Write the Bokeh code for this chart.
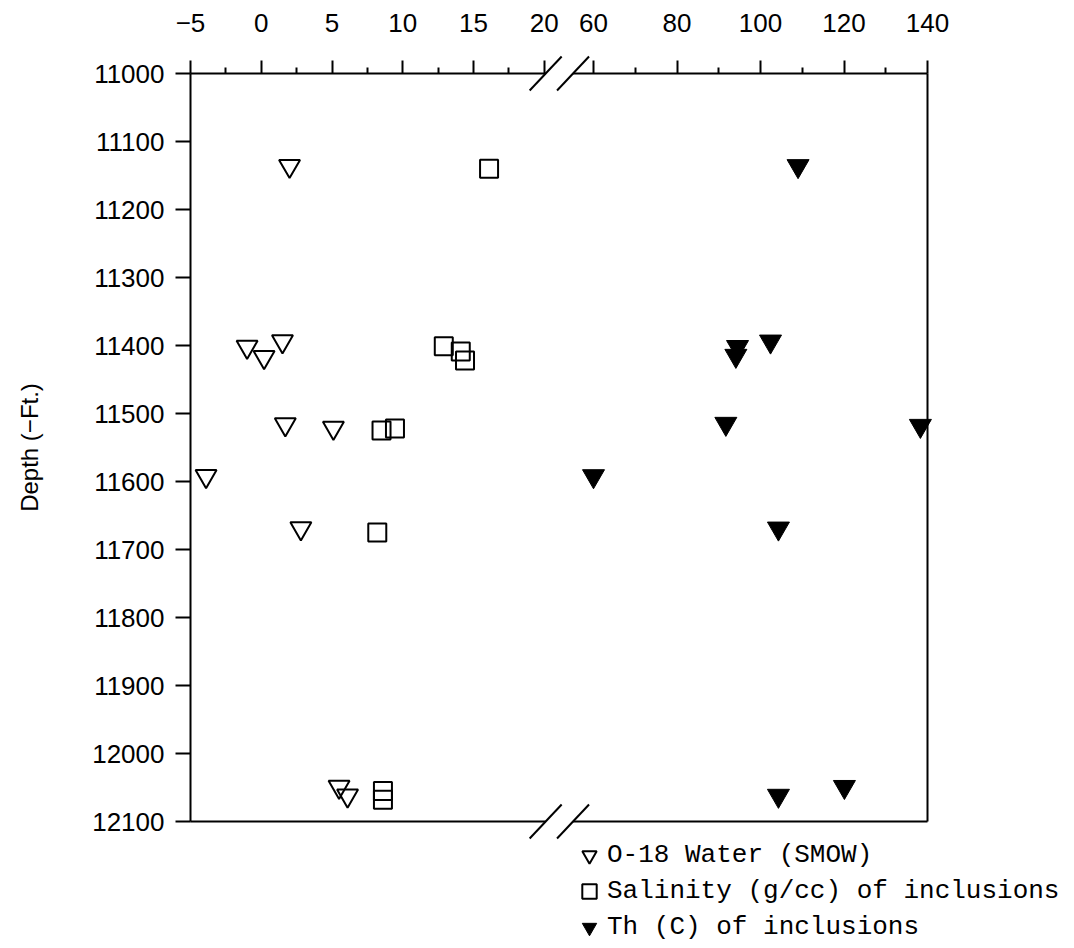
from bokeh.plotting import figure
from bokeh.models import Range1d, FixedTicker, Legend, LegendItem, Arrow
from bokeh.embed import file_html
from bokeh.resources import INLINE

# ---------------- data ----------------
# O-18 of water (SMOW, per mil) -- open inverted triangles, left part of the broken scale
o18_value = [2.0, -1.0, 0.2, 1.5, 1.7, 5.1, -3.9, 2.8, 5.5, 6.1]
o18_depth = [11136, 11402, 11417, 11394, 11516, 11521, 11592, 11669, 12049, 12062]

# Salinity (g/cc) of inclusions -- open squares, left part of the scale
sal_value = [16.1, 12.9, 14.1, 14.4, 8.5, 9.45, 8.2, 8.6, 8.6]
sal_depth = [11140, 11401, 11409, 11422, 11525, 11522, 11675, 12055, 12068]

# Th (C) of inclusions -- filled inverted triangles, right part of the scale
th_value = [109.0, 94.5, 94.1, 102.4, 91.7, 138.3, 60.0, 104.3, 104.3, 120.1]
th_depth = [11136, 11402, 11415, 11394, 11515, 11518, 11592, 11669, 12062, 12049]

left_ticks = [-5, 0, 5, 10, 15, 20]
left_minor = [-2.5, 2.5, 7.5, 12.5, 17.5]
right_ticks = [60, 80, 100, 120, 140]
right_minor = [70, 90, 110, 130]
depth_ticks = list(range(11000, 12101, 100))

legend_labels = ["O-18 Water (SMOW)", "Salinity (g/cc) of inclusions", "Th (C) of inclusions"]

# ---------------- layout / scales ----------------
W, H = 1074, 948


def lin_range(v0, px0, px_per_unit, size):
    """range spanning the whole canvas, with value v0 at pixel px0"""
    return v0 - px0 / px_per_unit, v0 + (size - px0) / px_per_unit


X_MAIN = lin_range(-5.0, 190, 14.15, W)      # left part of the broken axis
X_TH = lin_range(60.0, 593, 4.175, W)        # right part of the broken axis
_top, _bot = lin_range(11000.0, 73, 0.68, H)
DEPTH = (_bot, _top)                         # depth increases downward

X_LEFT_END, X_RIGHT_END = -5.0, 140.0
D_TOP, D_BOT = 11000, 12100
BREAK_MAIN = 20.1            # end of left segment (main units)
BREAK_TH = 55.1              # start of right segment (Th units)


def th_to_main(t):
    f = (t - X_TH[0]) / (X_TH[1] - X_TH[0])
    return round(X_MAIN[0] + f * (X_MAIN[1] - X_MAIN[0]), 6)


p = figure(width=W, height=H,
           x_range=Range1d(*X_MAIN), y_range=Range1d(*DEPTH),
           x_axis_location="above", output_backend="svg", toolbar_location=None,
           min_border=0)
p.extra_x_ranges = {"th": Range1d(*X_TH)}
p.outline_line_color = None
p.xgrid.visible = False
p.ygrid.visible = False
p.background_fill_color = "white"
p.border_fill_color = "white"

FONT = "Liberation Sans"
TICK_FONT_SIZE = "26px"

# top broken axis: one axis, ticks of the right part placed via the Th scale
major_pos = [float(t) for t in left_ticks] + [th_to_main(t) for t in right_ticks]
minor_pos = [float(t) for t in left_minor] + [th_to_main(t) for t in right_minor]
labels = [str(t).replace("-", "\u2212") for t in left_ticks] + [str(t) for t in right_ticks]
xa = p.xaxis[0]
xa.fixed_location = D_TOP
xa.ticker = FixedTicker(ticks=major_pos, minor_ticks=minor_pos)
xa.major_label_overrides = {pos: lab for pos, lab in zip(major_pos, labels)}
xa.axis_line_color = None
xa.major_tick_out = 13
xa.major_tick_in = 0
xa.minor_tick_out = 6
xa.minor_tick_in = 0
xa.major_tick_line_width = 2
xa.minor_tick_line_width = 2
xa.major_tick_line_color = "black"
xa.minor_tick_line_color = "black"
xa.major_label_standoff = 29
xa.major_label_text_font = FONT
xa.major_label_text_font_size = TICK_FONT_SIZE
xa.major_label_text_color = "black"

ya = p.yaxis[0]
ya.fixed_location = X_LEFT_END
ya.bounds = (D_TOP, D_BOT)
ya.ticker = FixedTicker(ticks=depth_ticks, minor_ticks=[])
ya.axis_line_width = 2
ya.axis_line_color = "black"
ya.major_tick_out = 15
ya.major_tick_in = 0
ya.minor_tick_out = 0
ya.minor_tick_in = 0
ya.major_tick_line_width = 2
ya.major_tick_line_color = "black"
ya.major_label_standoff = 11
ya.major_label_text_font = FONT
ya.major_label_text_font_size = TICK_FONT_SIZE
ya.major_label_text_color = "black"
ya.axis_label = "Depth (\u2212Ft.)"
ya.axis_label_text_font = FONT
ya.axis_label_text_font_style = "normal"
ya.axis_label_text_font_size = "24px"
ya.axis_label_text_color = "black"
ya.axis_label_standoff = 46

# frame lines (right side, top and bottom with break marks)
LW = 2
p.add_layout(Arrow(end=None, x_start=X_RIGHT_END, x_end=X_RIGHT_END, y_start=D_TOP, y_end=D_BOT,
                   line_width=LW, line_color="black", x_range_name="th"))
SL_DX_MAIN = 1.13
SL_DX_TH = 3.83
SL_DY = 25
for yv in (D_TOP, D_BOT):
    p.add_layout(Arrow(end=None, x_start=X_LEFT_END, x_end=BREAK_MAIN, y_start=yv, y_end=yv,
                       line_width=LW, line_color="black"))
    p.add_layout(Arrow(end=None, x_start=BREAK_TH, x_end=X_RIGHT_END, y_start=yv, y_end=yv,
                       line_width=LW, line_color="black", x_range_name="th"))
    p.add_layout(Arrow(end=None, x_start=BREAK_MAIN - SL_DX_MAIN, y_start=yv + SL_DY,
                       x_end=BREAK_MAIN + SL_DX_MAIN, y_end=yv - SL_DY,
                       line_width=LW, line_color="black"))
    p.add_layout(Arrow(end=None, x_start=BREAK_TH - SL_DX_TH, y_start=yv + SL_DY,
                       x_end=BREAK_TH + SL_DX_TH, y_end=yv - SL_DY,
                       line_width=LW, line_color="black", x_range_name="th"))

# data
r1 = p.scatter(o18_value, o18_depth, marker="inverted_triangle", size=21,
               fill_color=None, line_color="black", line_width=2)
r2 = p.scatter(sal_value, sal_depth, marker="square", size=18,
               fill_color=None, line_color="black", line_width=2)
r3 = p.scatter(th_value, th_depth, marker="inverted_triangle", size=22,
               fill_color="black", line_color="black", line_width=1, x_range_name="th")

legend = Legend(items=[LegendItem(label=legend_labels[0], renderers=[r1]),
                       LegendItem(label=legend_labels[1], renderers=[r2]),
                       LegendItem(label=legend_labels[2], renderers=[r3])],
                location=(571, 3), orientation="vertical",
                border_line_color=None, background_fill_alpha=0,
                label_text_font="Liberation Mono", label_text_font_size="26px",
                label_text_color="black",
                glyph_width=36, glyph_height=36, spacing=0, padding=0, margin=0,
                label_standoff=0, label_height=36)
p.add_layout(legend)

open("out.html", "w").write(file_html(p, INLINE))
